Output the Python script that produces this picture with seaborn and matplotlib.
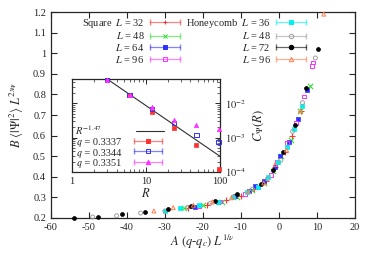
import numpy as np
import pandas as pd
import seaborn as sns
import matplotlib.pyplot as plt
from matplotlib.lines import Line2D
from matplotlib.legend_handler import HandlerLine2D

# ---- main panel: scaling collapse ----
sq32_x = [-24, -19, -14, -10, -6.5, -3.5, -1.0, 1.5, 3.5, 5.7]
sq32_y = [0.250, 0.265, 0.285, 0.305, 0.340, 0.380, 0.450, 0.520, 0.600, 0.720]
sq48_x = [-25, -20, -15, -11, -7, -4, -1.5, 0.5, 3.3, 5.5, 8.1]
sq48_y = [0.248, 0.262, 0.280, 0.302, 0.335, 0.370, 0.430, 0.500, 0.580, 0.720, 0.840]
sq64_x = [-22, -16, -11.5, -8, -6.3, -3.8, -1.0, 0.4, 2.6, 5.0, 7.3]
sq64_y = [0.255, 0.278, 0.305, 0.330, 0.355, 0.380, 0.450, 0.500, 0.570, 0.680, 0.820]
sq96_x = [-21, -15.5, -9, -5.5, -2.2, -0.6, 2.2, 4.5, 6.6, 8.8, 9.0]
sq96_y = [0.258, 0.280, 0.315, 0.350, 0.410, 0.470, 0.565, 0.660, 0.790, 0.940, 0.955]

hc36_x = [-30, -26, -21, -16, -12, -8.5, -5.5, -2.8, -0.2, 2.2, 4.0, 6.0]
hc36_y = [0.235, 0.247, 0.262, 0.280, 0.300, 0.325, 0.352, 0.400, 0.470, 0.546, 0.630, 0.745]
hc48_x = [-49, -42.7, -36.4, -30, -24, -18, -12, -7, -3, 0.5, 3.6, 6.2, 9.6]
hc48_y = [0.205, 0.211, 0.224, 0.234, 0.252, 0.272, 0.302, 0.340, 0.390, 0.480, 0.620, 0.760, 0.977]
hc72_x = [-54, -47.7, -41.4, -35.3, -29.1, -23.2, -16.8, -10.9, -4.7, -1.6, 1.2, 4.3, 7.1, 10.3]
hc72_y = [0.200, 0.206, 0.218, 0.230, 0.242, 0.258, 0.283, 0.318, 0.365, 0.433, 0.520, 0.650, 0.830, 1.020]
hc96_x = [-32.9, -27.8, -22.5, -17.5, -12.5, -8, -4, -1, 2, 5.7, 11.8]
hc96_y = [0.234, 0.250, 0.262, 0.278, 0.298, 0.328, 0.370, 0.460, 0.530, 0.720, 1.190]

# ---- inset: correlation function ----
R_vals = [3, 6, 12, 24, 48, 96]
C_q3337 = [0.048, 0.017, 0.0056, 0.0019, 5.9e-4, 1.2e-4]
C_q3344 = [0.048, 0.017, 0.0067, 0.0027, 1.2e-3, 7.4e-4]
C_q3351 = [0.048, 0.017, 0.0077, 0.0033, 2.3e-3, 1.8e-3]
fit_R = [3, 100]
fit_C = [0.05, 2.87e-4]

sns.set_style('ticks')
plt.rcParams['font.family'] = ['Liberation Serif', 'STIXGeneral', 'DejaVu Serif']
plt.rcParams['mathtext.fontset'] = 'stix'
plt.rcParams['axes.unicode_minus'] = False
plt.rcParams['font.size'] = 7.5

fig = plt.figure(figsize=(3.74, 2.62), dpi=100)
ax = fig.add_axes([0.136, 0.168, 0.813, 0.786])

series = [
    ('Square  $L$ = 32', sq32_x, sq32_y, '#ff3030', '+', True),
    ('$L$ = 48', sq48_x, sq48_y, '#30e030', 'x', True),
    ('$L$ = 64', sq64_x, sq64_y, '#3030ff', 's', True),
    ('$L$ = 96', sq96_x, sq96_y, '#ff30ff', 's', False),
    ('Honeycomb  $L$ = 36', hc36_x, hc36_y, '#00f0f0', 's', True),
    ('$L$ = 48', hc48_x, hc48_y, '#a0a0a0', 'o', False),
    ('$L$ = 72', hc72_x, hc72_y, '#000000', 'o', True),
    ('$L$ = 96', hc96_x, hc96_y, '#ff7f50', '^', False),
]


def draw(axis, x, y, c, m, filled, s=8):
    if m in ('+', 'x'):
        sns.scatterplot(x=x, y=y, ax=axis, marker=m, color=c, s=s + 6,
                        linewidth=0.8, clip_on=False, zorder=3)
    elif filled:
        sns.scatterplot(x=x, y=y, ax=axis, marker=m, color=c, edgecolor=c,
                        s=s, linewidth=0.5, clip_on=False, zorder=3)
    else:
        sns.scatterplot(x=x, y=y, ax=axis, marker=m, color=c, facecolor='none',
                        edgecolor=c, s=s, linewidth=0.7, clip_on=False, zorder=3)


def legend_handle(c, m, filled, hmap):
    bar = Line2D([], [], color=c, alpha=0.6, lw=0.9, marker='|', markersize=4)
    pt = Line2D([], [], color=c, linestyle='none', marker=m, markersize=3.2,
                markerfacecolor=c if filled else 'none', markeredgewidth=0.7)
    hmap[bar] = HandlerLine2D(numpoints=2, marker_pad=0)
    hmap[pt] = HandlerLine2D(numpoints=1)
    return (bar, pt)


for lab, x, y, c, m, f in series:
    draw(ax, x, y, c, m, f)

ax.set_xlim(-60, 20)
ax.set_ylim(0.2, 1.2)
ax.set_xticks(np.arange(-60, 21, 10))
ax.set_yticks(np.round(np.arange(0.2, 1.21, 0.1), 1))
ax.yaxis.set_major_formatter(plt.FormatStrFormatter('%g'))
ax.tick_params(direction='in', top=True, right=True, length=4, width=0.8, labelsize=7.5)
for sp in ax.spines.values():
    sp.set_linewidth(0.9)
ax.set_xlabel(r'$A\ (q$-$q_c)\ L^{1/\nu}$', fontsize=9, labelpad=1)
ax.set_ylabel(r'$B\ \langle|\Psi|^2\rangle\ L^{2x_\Psi}$', fontsize=9, labelpad=5)

for k, anchor in [(0, 0.424), (4, 0.839)]:
    hmap = {}
    handles = [legend_handle(c, m, f, hmap) for _, _, _, c, m, f in series[k:k + 4]]
    labels = [s[0] for s in series[k:k + 4]]
    leg = ax.legend(handles, labels, handler_map=hmap, loc='upper right',
                    bbox_to_anchor=(anchor, 0.977), frameon=False, markerfirst=False,
                    borderaxespad=0, borderpad=0, handlelength=2.9, handletextpad=0.5,
                    labelspacing=0.06, fontsize=7.5)
    if k == 0:
        ax.add_artist(leg)

# ---- inset ----
ins = fig.add_axes([0.1925, 0.3435, 0.3955, 0.3545])
sns.lineplot(x=fit_R, y=fit_C, ax=ins, color='#303030', lw=0.8)
inset_series = [
    ('\U0001D45E = 0.3337', C_q3337, '#ff3030', 's', True),
    ('\U0001D45E = 0.3344', C_q3344, '#3030ff', 's', False),
    ('\U0001D45E = 0.3351', C_q3351, '#ff30ff', '^', True),
]
for lab, C, c, m, f in inset_series:
    draw(ins, R_vals, C, c, m, f, s=10)
ins.set_xscale('log')
ins.set_yscale('log')
ins.set_xlim(1, 100)
ins.set_ylim(1e-4, 0.05)
ins.set_xticks([1, 10, 100])
ins.set_xticklabels(['1', '10', '100'])
ins.set_yticks([1e-4, 1e-3, 1e-2])
ins.set_yticklabels(['$10^{-4}$', '$10^{-3}$', '$10^{-2}$'])
ins.yaxis.tick_right()
ins.tick_params(which='both', direction='in', top=True, left=True, right=True, labelsize=7.5)
ins.tick_params(which='major', length=3.5, width=0.7)
ins.tick_params(which='minor', length=2, width=0.5)
for sp in ins.spines.values():
    sp.set_linewidth(0.9)
ins.set_xlabel('$R$', fontsize=9, labelpad=1)
ins.set_ylabel(r'$C_\Psi(R)$', fontsize=9, labelpad=4)
ins.yaxis.set_label_position('right')

hmap = {}
fit_h = Line2D([], [], color='#303030', lw=0.8)
leg1 = ins.legend([fit_h], ['$R^{-1.47}$'], loc='center left', bbox_to_anchor=(0.02, 0.455),
                  frameon=False, markerfirst=False, borderaxespad=0, borderpad=0,
                  handlelength=2.7, handletextpad=3.3, fontsize=7.5)
ins.add_artist(leg1)
handles = [legend_handle(c, m, f, hmap) for _, _, c, m, f in inset_series]
ins.legend(handles, [s[0] for s in inset_series], handler_map=hmap, loc='lower right',
           bbox_to_anchor=(0.608, 0.045), frameon=False, markerfirst=False,
           borderaxespad=0, borderpad=0, handlelength=2.7, handletextpad=1.2,
           labelspacing=0.14, fontsize=7.5)

fig.savefig('out.png', dpi=100)
